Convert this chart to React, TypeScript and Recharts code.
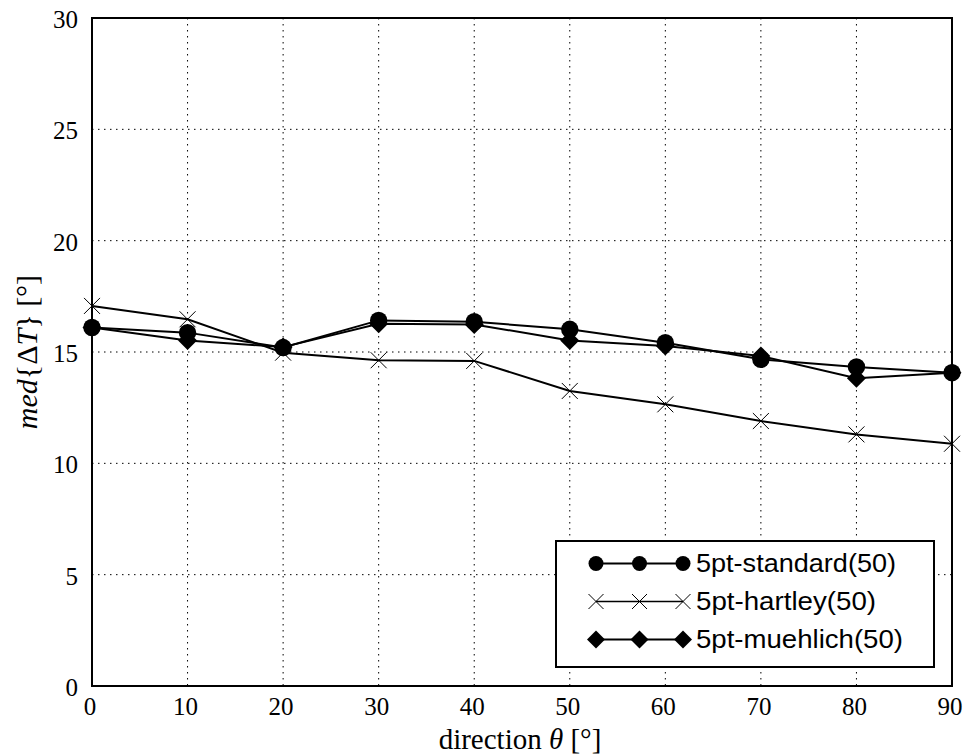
import React from "react";
import {
  LineChart,
  Line,
  XAxis,
  YAxis,
  CartesianGrid,
  ReferenceArea,
} from "recharts";

const directions = [0, 10, 20, 30, 40, 50, 60, 70, 80, 90];
const standard = [16.1, 15.87, 15.2, 16.42, 16.36, 16.02, 15.42, 14.67, 14.33, 14.07];
const hartley = [17.07, 16.47, 14.97, 14.63, 14.6, 13.25, 12.65, 11.9, 11.3, 10.88];
const muehlich = [16.1, 15.52, 15.22, 16.27, 16.24, 15.52, 15.27, 14.82, 13.82, 14.07];

const xTicks = [0, 10, 20, 30, 40, 50, 60, 70, 80, 90];
const yTicks = [0, 5, 10, 15, 20, 25, 30];

const seriesNames = ["5pt-standard(50)", "5pt-hartley(50)", "5pt-muehlich(50)"];
const legendTextWidths = [200, 180, 207];

const data = directions.map((d, i) => ({
  dir: d,
  standard: standard[i],
  hartley: hartley[i],
  muehlich: muehlich[i],
}));

const SERIF = "'Liberation Serif', 'DejaVu Serif', serif";
const SANS = "'Liberation Sans', Arial, sans-serif";

const CircleDot = (props: any) => {
  const { cx, cy, size } = props;
  if (cx == null || cy == null) return null;
  return <circle cx={cx} cy={cy} r={size ?? 8.7} fill="#000" />;
};
const CrossDot = (props: any) => {
  const { cx, cy, size } = props;
  if (cx == null || cy == null) return null;
  const s = size ?? 8;
  return (
    <g stroke="#000" strokeWidth={1}>
      <line x1={cx - s} y1={cy - s} x2={cx + s} y2={cy + s} />
      <line x1={cx - s} y1={cy + s} x2={cx + s} y2={cy - s} />
    </g>
  );
};
const DiamondDot = (props: any) => {
  const { cx, cy, size } = props;
  if (cx == null || cy == null) return null;
  const s = size ?? 9.5;
  return (
    <polygon
      points={`${cx},${cy - s} ${cx + s},${cy} ${cx},${cy + s} ${cx - s},${cy}`}
      fill="#000"
    />
  );
};

const YTick = (props: any) => {
  const { x, y, payload } = props;
  return (
    <text x={x - 12} y={y + 10} textAnchor="end" fontFamily={SERIF} fontSize={25} fill="#000">
      {payload.value}
    </text>
  );
};
const XTick = (props: any) => {
  const { x, y, payload } = props;
  return (
    <text x={x - 2} y={y + 27} textAnchor="middle" fontFamily={SERIF} fontSize={25} fill="#000">
      {payload.value}
    </text>
  );
};

const YLabel = (props: any) => {
  const vb = props.viewBox || {};
  const cy = (vb.y ?? 18) + (vb.height ?? 668) / 2;
  const cx = 37;
  return (
    <text
      x={cx}
      y={cy}
      transform={`rotate(-90 ${cx} ${cy})`}
      textAnchor="middle"
      fontFamily={SERIF}
      fontSize={30}
      fill="#000"
    >
      <tspan fontStyle="italic">med</tspan>
      <tspan>{"{Δ"}</tspan>
      <tspan fontStyle="italic">T</tspan>
      <tspan>{"} [°]"}</tspan>
    </text>
  );
};

const XLabel = (props: any) => {
  const vb = props.viewBox || {};
  const cx = (vb.x ?? 92) + (vb.width ?? 860) / 2;
  return (
    <text x={cx - 2} y={749} textAnchor="middle" fontFamily={SERIF} fontSize={29} fill="#000">
      <tspan>direction </tspan>
      <tspan fontStyle="italic">θ</tspan>
      <tspan> [°]</tspan>
    </text>
  );
};

const markerKinds = ["circle", "cross", "diamond"];

const LegendMarker = ({ kind, cx, cy }: { kind: string; cx: number; cy: number }) => {
  if (kind === "circle") return <CircleDot cx={cx} cy={cy} size={7.5} />;
  if (kind === "cross") return <CrossDot cx={cx} cy={cy} size={7.5} />;
  return <DiamondDot cx={cx} cy={cy} size={9} />;
};

const LegendBox = () => (
  <div
    style={{
      position: "absolute",
      left: 555,
      top: 540,
      width: 380,
      height: 128,
      border: "2px solid #000",
      background: "#fff",
      boxSizing: "border-box",
    }}
  >
    <svg width={376} height={124} style={{ position: "absolute", left: 0, top: 0 }}>
      {seriesNames.map((name, i) => {
        const cy = 21.5 + i * 38;
        return (
          <g key={name}>
            <line x1={39} y1={cy} x2={126} y2={cy} stroke="#000" strokeWidth={i === 1 ? 1.5 : 2} />
            {[39, 82.5, 126].map((cx) => (
              <LegendMarker key={cx} kind={markerKinds[i]} cx={cx} cy={cy} />
            ))}
            <text
              x={139}
              y={cy + 8}
              fontFamily={SANS}
              fontSize={25}
              fill="#000"
              textLength={legendTextWidths[i]}
              lengthAdjust="spacingAndGlyphs"
            >
              {name}
            </text>
          </g>
        );
      })}
    </svg>
  </div>
);

export default function App() {
  return (
    <div style={{ position: "absolute", left: 0, top: 0, width: 965, height: 754, background: "#fff" }}>
      <LineChart
        width={965}
        height={754}
        data={data}
        margin={{ top: 18, right: 13, bottom: 0, left: 0 }}
      >
        <CartesianGrid stroke="#000" strokeDasharray="1.5 4.5" strokeWidth={1} />
        <XAxis
          dataKey="dir"
          type="number"
          domain={[0, 90]}
          ticks={xTicks}
          height={68}
          tickLine={false}
          axisLine={false}
          tick={<XTick />}
          tickSize={0}
          label={<XLabel />}
          interval={0}
        />
        <YAxis
          type="number"
          domain={[0, 30]}
          ticks={yTicks}
          width={92}
          tickLine={false}
          axisLine={false}
          tick={<YTick />}
          tickSize={0}
          label={<YLabel />}
          interval={0}
        />
        <ReferenceArea
          x1={0}
          x2={90}
          y1={0}
          y2={30}
          fill="none"
          fillOpacity={0}
          stroke="#000"
          strokeWidth={2}
        />
        <Line
          dataKey="standard"
          name={seriesNames[0]}
          stroke="#000"
          strokeWidth={2}
          dot={<CircleDot />}
          activeDot={false}
          isAnimationActive={false}
        />
        <Line
          dataKey="hartley"
          name={seriesNames[1]}
          stroke="#000"
          strokeWidth={2}
          dot={<CrossDot />}
          activeDot={false}
          isAnimationActive={false}
        />
        <Line
          dataKey="muehlich"
          name={seriesNames[2]}
          stroke="#000"
          strokeWidth={2}
          dot={<DiamondDot />}
          activeDot={false}
          isAnimationActive={false}
        />
      </LineChart>
      <LegendBox />
    </div>
  );
}
